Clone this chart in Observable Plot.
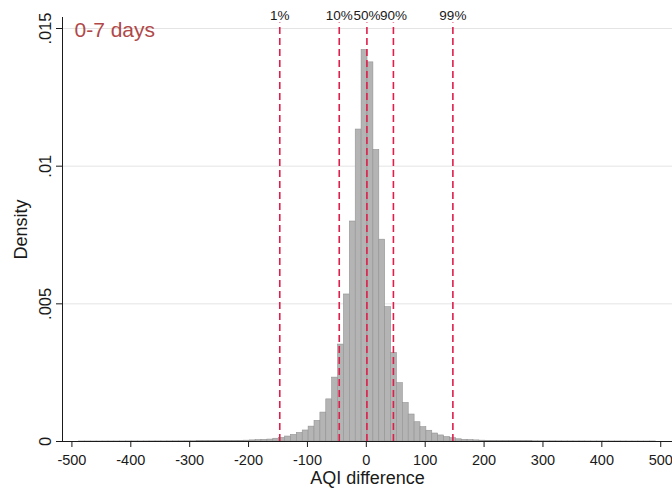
<!DOCTYPE html>
<html><head><meta charset="utf-8">
<script src="https://cdn.jsdelivr.net/npm/d3@7"></script>
<script src="https://cdn.jsdelivr.net/npm/@observablehq/plot@0.6"></script>
<style>
body{margin:0;background:#fff;font-family:"Liberation Sans",Arial,sans-serif;}
#chart{width:672px;height:488px;}
</style>
</head><body><div id="chart"></div>
<script>
// Histogram of AQI difference, bins of width 10 starting at -488
const binStart = -488;
const binWidth = 10;
const leftTail = [0.000002,0.000002,0.000002,0.000002,0.000003,0.000003,0.000003,0.000003,0.000004,0.000004,
  0.000004,0.000005,0.000005,0.000006,0.000006,0.000007,0.000008,0.000008,0.000009,0.00001,
  0.000011,0.000012,0.000013,0.000015,0.000017];
const leftCore = [0.000019,0.00002,0.000025,0.00003,0.00004,0.00005,0.00006,0.00007,0.0001,0.00013,
  0.00018,0.00024,0.00031,0.0004,0.00054,0.00075,0.00105,0.00153,0.00232,0.00352,
  0.00534,0.00799,0.01133];
const rightCore = [0.01422,0.01377,0.01059,0.00733,0.00488,0.00322,0.00212,0.0014,0.00098,0.0007,
  0.00052,0.00039,0.00029,0.00022,0.00016,0.00012,0.00008,0.00006,0.00005,0.00004,
  0.00003,0.000025,0.00002,0.000018];
const rightTail = [0.000016,0.000014,0.000013,0.000012,0.000011,0.00001,0.000009,0.000008,0.000008,0.000007,
  0.000006,0.000006,0.000005,0.000005,0.000004,0.000004,0.000004,0.000003,0.000003,0.000003,
  0.000003,0.000002,0.000002,0.000002,0.000002,0.000002];

const xTicks = [-500,-400,-300,-200,-100,0,100,200,300,400,500];
const yTicks = [0,0.005,0.01,0.015];
const yTickLabels = ["0",".005",".01",".015"];
const pctLabels = ["1%","10%","50%","90%","99%"];
const pctValues = [-147,-46,1,46,147];
const pctLineTop = 0.0152;
const panelTitle = "0-7 days";
const xTitle = "AQI difference";
const yTitle = "Density";

const density = [...leftTail, ...leftCore, ...rightCore, ...rightTail];
const bins = density.map((d, i) => ({x1: binStart + i * binWidth, x2: binStart + (i + 1) * binWidth, y: d}));

const font = "Liberation Sans, Arial, sans-serif";
const chart = Plot.plot({
  width: 672,
  height: 488,
  marginLeft: 62,
  marginRight: 0,
  marginTop: 17,
  marginBottom: 47,
  x: {domain: [-516, 520]},
  y: {domain: [0, 0.0154]},
  style: {fontFamily: font, fontSize: "14px", background: "white", color: "#1a1a1a", overflow: "visible"},
  marks: [
    Plot.ruleY(yTicks.filter(d => d > 0), {stroke: "#e4e4e4", strokeWidth: 1}),
    Plot.rectY(bins, {x1: "x1", x2: "x2", y: "y", fill: "#b4b4b4", stroke: "#939393", strokeWidth: 0.6}),
    Plot.ruleX(pctValues, {y1: 0, y2: pctLineTop, stroke: "#de1f4c", strokeWidth: 1.6, strokeDasharray: "7,4"}),
    Plot.text(pctValues, {x: d => d, y: pctLineTop, text: (d, i) => pctLabels[i], dy: -7, fontSize: 13.5, fill: "#1a1a1a", lineAnchor: "middle"}),
    Plot.frame({anchor: "left", stroke: "#1a1a1a", strokeWidth: 1}),
    Plot.frame({anchor: "bottom", stroke: "#1a1a1a", strokeWidth: 1}),
    Plot.axisX({ticks: xTicks, tickSize: 6, tickPadding: 7, tickFormat: d => String(d), fontSize: 14.5, label: null, stroke: "#1a1a1a"}),
    Plot.axisY({ticks: yTicks, tickSize: 6, tickFormat: () => "", label: null, stroke: "#1a1a1a"}),
    Plot.text(yTicks, {y: d => d, frameAnchor: "left", text: (d, i) => yTickLabels[i], rotate: -90, dx: -17, textAnchor: "middle", lineAnchor: "middle", fontSize: 16.5, fill: "#1a1a1a"}),
    Plot.text([yTitle], {frameAnchor: "left", rotate: -90, dx: -41, textAnchor: "middle", lineAnchor: "middle", fontSize: 18, fill: "#1a1a1a"}),
    Plot.text([xTitle], {frameAnchor: "bottom", dy: 37, textAnchor: "middle", lineAnchor: "middle", fontSize: 18, fill: "#1a1a1a"}),
    Plot.text([panelTitle], {frameAnchor: "top-left", dx: 12, dy: 13, textAnchor: "start", lineAnchor: "middle", fontSize: 21, fill: "#b04848"})
  ]
});
document.getElementById("chart").appendChild(chart);
</script>
</body></html>
